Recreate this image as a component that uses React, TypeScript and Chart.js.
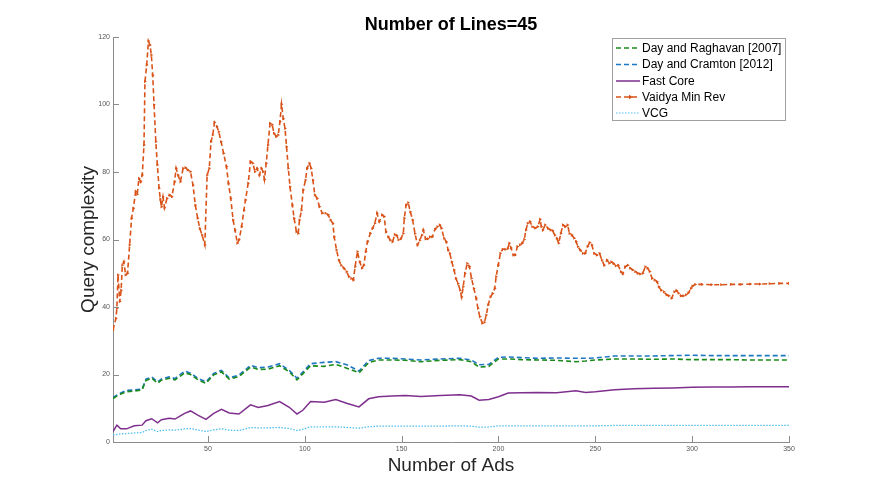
import React, { useEffect, useRef } from "react";
import { Chart, registerables } from "chart.js";

Chart.register(...registerables);

const FONT = '"Liberation Sans", Arial, Helvetica, sans-serif';

const chartTitle = "Number of Lines=45";
const xAxisTitle = "Number of Ads";
const yAxisTitle = "Query complexity";
const seriesNames = ["Day and Raghavan [2007]", "Day and Cramton [2012]", "Fast Core", "Vaidya Min Rev", "VCG"];
const xTickValues = [50, 100, 150, 200, 250, 300, 350];
const yTickValues = [0, 20, 40, 60, 80, 100, 120];

const vaidyaX = [
  1, 2.5, 3, 3.6, 4.5, 5.2, 5.8, 6.6, 7.5, 8.5,
  9.6, 10.6, 11.5, 12.7, 13.5, 14.4, 15.3, 16.1, 17, 17.5,
  18.4, 19.3, 20.1, 20.8, 21.5, 22.2, 23.1, 23.9, 24.8, 25.4,
  26, 26.8, 27.6, 28.9, 30.2, 31.4, 32.8, 33.6, 34.6, 35.8,
  37.2, 38.4, 39.6, 41, 42.3, 43.5, 44.7, 45.8, 47, 48.4,
  49.6, 50.7, 51.6, 52.5, 53.4, 54.6, 55.6, 56.8, 58.1, 59.6,
  60.6, 61.8, 63, 64, 65.2, 66.1, 67.4, 68.6, 69.4, 70.8,
  72, 73.2, 74.3, 75.4, 76.6, 77.6, 78.5, 79.2, 80.1, 81,
  82.1, 83.2, 84.1, 85.3, 86.3, 87.2, 88, 88.9, 89.8, 90.6,
  91.5, 92.4, 93.6, 94.5, 95.7, 96.6, 97.3, 98.3, 99.2, 100.4,
  101.2, 102.4, 103.3, 104.2, 105.2, 106.4, 107.6, 109, 110.7, 112.1,
  113.3, 114.5, 115.2, 116.4, 117.6, 118.8, 120.2, 121.6, 122.8, 124,
  125.1, 126, 127.2, 128.4, 129.5, 130.5, 131.5, 132.4, 133.8, 135,
  136.2, 137.3, 138.5, 139.9, 141, 141.9, 143.1, 144.2, 145.3, 146.5,
  147.5, 148.4, 149.6, 150.9, 151.4, 152.3, 153.4, 154.5, 155.7, 156.9,
  158.2, 159.4, 160.5, 161.2, 162.4, 163.6, 164.6, 165.9, 167.2, 168.5,
  169.7, 170.6, 171.9, 173.1, 174, 174.9, 175.9, 177.1, 178, 179.1,
  180.2, 181, 181.8, 182.7, 183.9, 185, 186.1, 187.3, 188.5, 189.4,
  190.4, 191.7, 192.8, 193.7, 194.7, 195.9, 197, 198.1, 198.8, 199.9,
  201, 202.2, 203.6, 204.8, 205.6, 206.5, 207.7, 208.6, 209.8, 211.1,
  212.3, 213.3, 214.2, 215.1, 216.3, 217.5, 219, 220.3, 221.5, 222.2,
  222.9, 224.1, 225.6, 227, 228, 229.1, 230.1, 231.1, 232.2, 233.3,
  234.5, 235.7, 236.7, 237.9, 239.1, 240.1, 241, 242.2, 243.6, 244.8,
  246, 247.1, 248.2, 249.4, 250.8, 252.2, 253.4, 254.6, 256, 257.2,
  258.2, 259.4, 260.6, 261.8, 263.2, 264.2, 265.4, 266.8, 268, 269.3,
  270.6, 271.9, 273.2, 274.5, 275.8, 277, 278.1, 279.3, 280.6, 281.9,
  282.8, 284, 285.4, 286.8, 288, 289.4, 290.8, 291.9, 293, 294.2,
  295.4, 296.8, 298.1, 299.4, 300.2, 301.6, 305, 310, 315, 320,
  325, 330, 335, 340, 345, 350,
];
const vaidyaY = [
  33.2, 36.6, 39.6, 49.5, 41.6, 45, 52.4, 53.4, 49.5, 50,
  58.4, 66.3, 69.2, 74.2, 73.4, 78.1, 77.1, 79.1, 88, 106.8,
  111.7, 118.8, 117.6, 114.7, 108.7, 99.9, 89, 82.1, 75.2, 72,
  69.7, 72.6, 69.4, 72.2, 73.2, 72.7, 77.1, 81.1, 79.1, 77.1,
  81.1, 81.3, 80.6, 80.1, 76.1, 70.2, 66.3, 63.3, 61.3, 58.4,
  79.1, 81.1, 89, 91, 94.7, 93.5, 91.9, 89, 85.5, 81.6,
  76.7, 72.2, 65.8, 62.8, 58.9, 59.9, 63.8, 68.7, 71.7, 76.7,
  83.1, 82.6, 80.1, 81.1, 79.1, 81.1, 80.1, 77.8, 82.6, 88,
  94.4, 94, 91.5, 90.5, 91, 94.9, 100.1, 95.8, 92.9, 87.5,
  81.1, 75.6, 70.2, 66.3, 62.3, 61.8, 65.8, 68.7, 74.7, 77.6,
  81.1, 82.6, 81.1, 77.6, 73.2, 72.2, 69.7, 67.8, 67.8, 67.3,
  65.8, 64.8, 60.8, 56.9, 53.9, 52.4, 51.5, 50.5, 49, 48.5,
  48, 51.9, 56.4, 53.4, 51.5, 52.4, 56.4, 59.3, 61.8, 63.3,
  64.8, 67.8, 65.3, 67.3, 66.8, 62.3, 60.8, 59.8, 59.3, 61.5,
  61.2, 59.9, 60.2, 61.8, 66.3, 70.2, 70.9, 68.2, 65.8, 61.8,
  58.4, 59.8, 61.3, 62.8, 60.2, 60.2, 60.8, 60.8, 63, 63.8,
  64.3, 63.3, 60.4, 59.3, 56.9, 55.9, 53.4, 51, 48.5, 47,
  45, 43, 46, 50, 52.9, 52, 48.5, 45.5, 42.6, 39.6,
  37.1, 35.2, 35.5, 37.6, 40.6, 43, 44, 45.5, 49, 52.4,
  55.9, 57.1, 57.1, 57.3, 58.9, 57.5, 55.4, 55.4, 57.9, 58.4,
  58.9, 60, 62.8, 64.8, 65.3, 63.8, 63.4, 63.8, 66, 63.8,
  62.8, 64.3, 63.3, 62.8, 62.6, 61.3, 60.4, 58.9, 61.8, 64.3,
  63.8, 64.3, 61.8, 61.3, 60.4, 59.4, 57.9, 56.9, 55.9, 55.9,
  57.9, 59.1, 58.4, 55.9, 55.4, 55.9, 53.9, 52.4, 53.9, 53,
  53.4, 52.9, 52.2, 52.4, 50.5, 49.8, 51.9, 52.4, 51.5, 51,
  50.5, 50, 49.8, 50, 51.9, 51.5, 50.5, 48.5, 48, 47.5,
  46, 45, 44.5, 43.6, 43.3, 42.6, 44.5, 44.9, 44.1, 43.3,
  43.3, 43.6, 44.2, 45.5, 46.2, 46.7, 46.7, 46.6, 46.6, 46.7,
  46.7, 46.8, 46.8, 46.9, 47, 47,
];

const lowerX = [
  1, 3, 5, 8, 12, 16, 18, 21, 24, 26,
  30, 33, 36, 38, 41, 45, 49, 53, 57, 61,
  66, 72, 76, 81, 87, 92, 96, 99, 103, 110,
  116, 122, 128, 133, 138, 145, 152, 160, 170, 180,
  186, 190, 195, 200, 205, 212, 220, 230, 240, 245,
  250, 260, 270, 280, 290, 300, 310, 320, 330, 340,
  350,
];
const raghavanY = [
  12.9, 13.6, 14.2, 14.9, 15.1, 15.4, 18.2, 18.9, 17.4, 18.3,
  18.9, 18.4, 19.6, 20.5, 20, 18.4, 17.4, 19.9, 20.8, 18.6,
  19.4, 22.2, 21.5, 21.6, 22.6, 20.8, 18.4, 20.2, 22.6, 22.4,
  23, 21.8, 20.5, 23.5, 24.3, 24.3, 24.2, 23.8, 24.2, 24.4,
  23.8, 22.2, 22.4, 24.6, 24.6, 24.4, 24.3, 24.2, 23.8, 24,
  24.3, 24.6, 24.6, 24.5, 24.6, 24.4, 24.4, 24.4, 24.3, 24.3,
  24.3,
];
const cramtonY = [
  13.2, 13.9, 14.5, 15.3, 15.4, 15.7, 18.6, 19.3, 17.8, 18.7,
  19.3, 18.8, 20.1, 21, 20.4, 18.8, 17.8, 20.3, 21.2, 19,
  19.8, 22.7, 22, 22.2, 23.2, 21.2, 18.9, 20.7, 23.2, 23.6,
  23.8, 22.8, 21, 24.1, 24.8, 24.8, 24.6, 24.3, 24.6, 24.8,
  24.3, 22.9, 23, 25.1, 25.2, 25, 24.8, 24.9, 24.8, 24.8,
  24.9, 25.5, 25.5, 25.5, 25.6, 25.7, 25.6, 25.6, 25.6, 25.6,
  25.6,
];
const fastCoreY = [
  3.1, 5, 3.9, 3.9, 4.8, 5, 6.3, 6.9, 5.7, 6.6,
  7, 6.8, 7.8, 8.5, 9.2, 7.9, 6.7, 8.5, 9.7, 8.6,
  8.3, 11, 10.2, 10.8, 12, 10.3, 8.3, 9.4, 12, 11.8,
  12.6, 11.4, 10.4, 12.8, 13.4, 13.6, 13.8, 13.5, 13.8, 14,
  13.6, 12.4, 12.6, 13.4, 14.5, 14.6, 14.7, 14.6, 15.2, 14.7,
  14.9, 15.5, 15.8, 15.9, 16, 16.2, 16.3, 16.3, 16.4, 16.4,
  16.4,
];
const vcgY = [
  2.1, 2.2, 2.4, 2.5, 2.7, 2.8, 3.4, 3.8, 3.1, 3.4,
  3.6, 3.5, 3.7, 3.9, 4, 3.5, 3.1, 3.6, 3.9, 3.5,
  3.4, 4.3, 4.2, 4.2, 4.3, 4, 3.4, 3.8, 4.5, 4.5,
  4.5, 4.3, 4.1, 4.5, 4.7, 4.7, 4.7, 4.7, 4.7, 4.8,
  4.7, 4.4, 4.4, 4.8, 4.8, 4.8, 4.8, 4.8, 4.8, 4.8,
  4.8, 4.9, 4.9, 4.9, 4.9, 4.9, 4.9, 4.9, 4.9, 4.9,
  4.9,
];

const colors = ["#1a8a1a", "#1f77c4", "#7E2F8E", "#D95319", "#4DBEEE"];
const dashes = [[5, 3], [5, 3], [], [5, 3], [1.5, 1.5]];

const pairs = (xs: number[], ys: number[]) => xs.map((x, i) => ({ x, y: ys[i] }));

const decorPlugin = {
  id: "decor",
  afterDraw(chart: any) {
    const ctx = chart.ctx as CanvasRenderingContext2D;
    const area = chart.chartArea;
    const xs = chart.scales.x;
    const ys = chart.scales.y;
    ctx.save();
    ctx.strokeStyle = "#8c8c8c";
    ctx.lineWidth = 1;
    ctx.beginPath();
    yTickValues.forEach((v) => {
      const p = Math.round(ys.getPixelForValue(v)) + 0.5;
      ctx.moveTo(area.left, p);
      ctx.lineTo(area.left + 6, p);
    });
    xTickValues.forEach((v) => {
      const p = Math.round(xs.getPixelForValue(v)) + 0.5;
      ctx.moveTo(p, area.bottom);
      ctx.lineTo(p, area.bottom - 6);
    });
    ctx.stroke();

    ctx.fillStyle = "#000";
    ctx.font = `bold 18px ${FONT}`;
    ctx.textAlign = "center";
    ctx.textBaseline = "middle";
    ctx.fillText(chartTitle, 451, 25);

    ctx.fillStyle = "#262626";
    ctx.font = `19px ${FONT}`;
    ctx.fillText(xAxisTitle, (area.left + area.right) / 2, 466);
    ctx.save();
    ctx.translate(89, (area.top + area.bottom) / 2);
    ctx.rotate(-Math.PI / 2);
    ctx.fillText(yAxisTitle, 0, 0);
    ctx.restore();

    const bx = 612.5, by = 38.5, bw = 173, bh = 82;
    ctx.fillStyle = "#fff";
    ctx.fillRect(bx, by, bw, bh);
    ctx.strokeStyle = "#a0a0a0";
    ctx.lineWidth = 1;
    ctx.strokeRect(bx, by, bw, bh);
    const rowY = [48, 64.5, 81, 97, 113];
    seriesNames.forEach((name, i) => {
      const y = rowY[i];
      ctx.strokeStyle = colors[i];
      ctx.lineWidth = i === 4 ? 1.2 : 1.5;
      ctx.setLineDash(dashes[i]);
      ctx.beginPath();
      ctx.moveTo(616, y);
      ctx.lineTo(640, y);
      ctx.stroke();
      ctx.setLineDash([]);
      if (i === 3) {
        ctx.fillStyle = colors[i];
        ctx.beginPath();
        ctx.moveTo(633, y);
        ctx.lineTo(629, y - 2.2);
        ctx.lineTo(629, y + 2.2);
        ctx.closePath();
        ctx.fill();
      }
      ctx.fillStyle = "#000";
      ctx.font = `12px ${FONT}`;
      ctx.textAlign = "left";
      ctx.textBaseline = "middle";
      ctx.fillText(name, 642, y + 0.5);
    });
    ctx.restore();
  },
};

export default function App() {
  const canvasRef = useRef<HTMLCanvasElement | null>(null);

  useEffect(() => {
    if (!canvasRef.current) return;
    const lineSet = (i: number, data: any[], extra: any = {}) => ({
      label: seriesNames[i],
      data,
      borderColor: colors[i],
      backgroundColor: colors[i],
      borderWidth: 1.5,
      borderDash: dashes[i],
      pointRadius: 0,
      tension: 0,
      fill: false,
      ...extra,
    });
    const chart = new Chart(canvasRef.current, {
      type: "line",
      data: {
        datasets: [
          lineSet(4, pairs(lowerX, vcgY), { borderWidth: 1.3 }),
          lineSet(2, pairs(lowerX, fastCoreY)),
          lineSet(0, pairs(lowerX, raghavanY), { borderWidth: 1.6 }),
          lineSet(1, pairs(lowerX, cramtonY), { borderWidth: 1.6 }),
          lineSet(3, pairs(vaidyaX, vaidyaY), {
            borderWidth: 1.6,
            pointRadius: 1.9,
            pointStyle: "triangle",
            pointRotation: 90,
            pointBorderWidth: 0,
          }),
        ],
      },
      options: {
        animation: false,
        responsive: true,
        maintainAspectRatio: false,
        layout: { padding: { left: 0, right: 83, top: 37, bottom: 0 } },
        plugins: {
          legend: { display: false },
          title: { display: false },
          tooltip: { enabled: false },
        },
        scales: {
          x: {
            type: "linear",
            min: 1,
            max: 350,
            grid: { display: false, drawTicks: false },
            border: { display: true, color: "#8c8c8c", width: 1 },
            ticks: {
              padding: 3,
              color: "#555",
              font: { size: 7, family: FONT },
              maxRotation: 0,
              autoSkip: false,
            },
            afterBuildTicks: (s: any) => {
              s.ticks = xTickValues.map((v) => ({ value: v }));
            },
            afterFit: (s: any) => {
              s.height = 55;
            },
          },
          y: {
            type: "linear",
            min: 0,
            max: 120,
            grid: { display: false, drawTicks: false },
            border: { display: true, color: "#8c8c8c", width: 1 },
            ticks: {
              padding: 3,
              color: "#555",
              font: { size: 7, family: FONT },
              autoSkip: false,
            },
            afterBuildTicks: (s: any) => {
              s.ticks = yTickValues.map((v) => ({ value: v }));
            },
            afterFit: (s: any) => {
              s.width = 113;
            },
          },
        },
      },
      plugins: [decorPlugin],
    });
    return () => chart.destroy();
  }, []);

  return (
    <div style={{ position: "absolute", left: 0, top: 0, width: 872, height: 497, background: "#fff" }}>
      <canvas ref={canvasRef} />
    </div>
  );
}
